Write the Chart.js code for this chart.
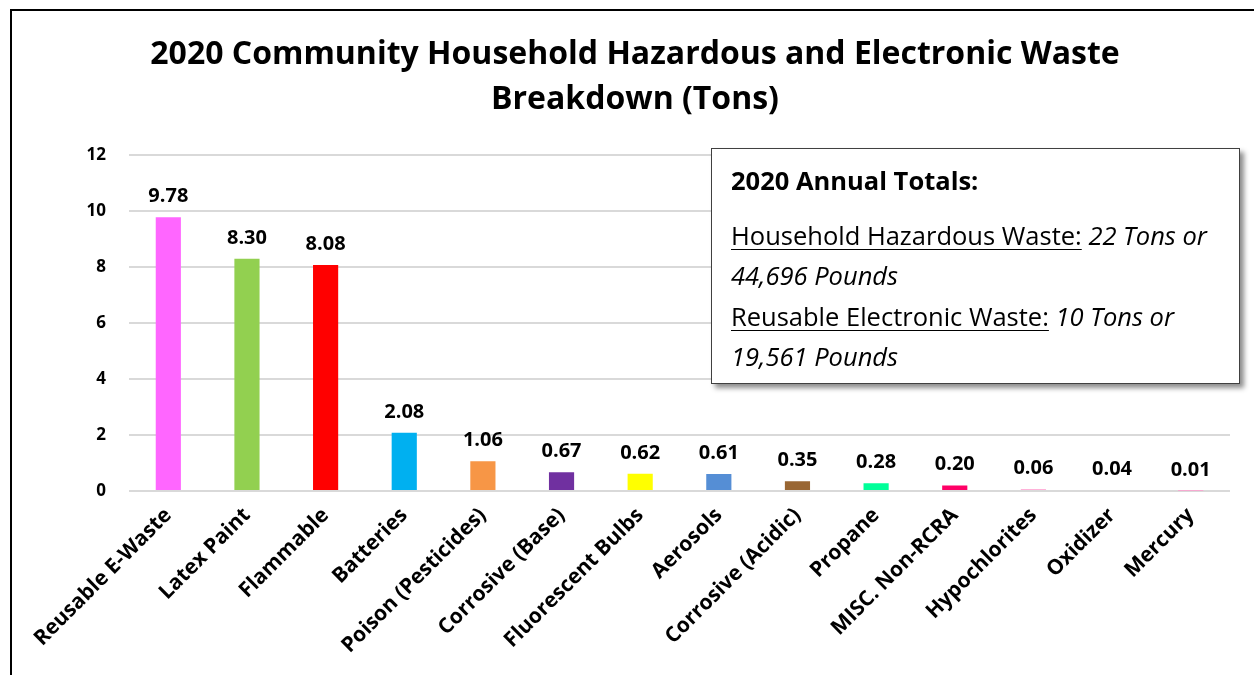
<!DOCTYPE html>
<html>
<head>
<meta charset="utf-8">
<script src="https://cdn.jsdelivr.net/npm/chart.js@4"></script>
<style>
    html, body { margin: 0; padding: 0; background: #fff; overflow: hidden; }
    #wrap { position: relative; width: 1254px; height: 675px; }
    #frame {
        position: absolute; left: 10px; top: 9px; width: 1300px; height: 720px;
        border: 2px solid #000; box-sizing: border-box; pointer-events: none;
    }
    #totals {
        position: absolute; left: 711px; top: 148px; width: 529px; height: 236px;
        box-sizing: border-box; border: 1px solid #404040; background: #fff;
        box-shadow: 4px 4px 5px rgba(0, 0, 0, 0.45);
        font-family: "Open Sans", Lato, sans-serif; font-size: 25.5px; color: #000;
        padding: 11px 0 0 19px; line-height: 40.5px;
    }
    #totals .head { font-weight: bold; margin-bottom: 14px; }
    #totals u { text-decoration-thickness: 1px; text-underline-offset: 4px; }
</style>
</head>
<body>
<div id="wrap">
    <canvas id="wasteChart"></canvas>
    <div id="frame"></div>
    <div id="totals">
        <div class="head">2020 Annual Totals:</div>
        <div><u>Household Hazardous Waste:</u> <i>22 Tons or</i></div>
        <div><i>44,696 Pounds</i></div>
        <div><u>Reusable Electronic Waste:</u> <i>10 Tons or</i></div>
        <div><i>19,561 Pounds</i></div>
    </div>
</div>
<script>
    // Chart data
    const categories = [
        "Reusable E-Waste", "Latex Paint", "Flammable", "Batteries", "Poison (Pesticides)",
        "Corrosive (Base)", "Fluorescent Bulbs", "Aerosols", "Corrosive (Acidic)", "Propane",
        "MISC. Non-RCRA", "Hypochlorites", "Oxidizer", "Mercury"
    ];
    const tons = [9.78, 8.30, 8.08, 2.08, 1.06, 0.67, 0.62, 0.61, 0.35, 0.28, 0.20, 0.06, 0.04, 0.01];
    const barColors = [
        "#FF66FF", "#92D050", "#FF0000", "#00B0F0", "#F79646",
        "#7030A0", "#FFFF00", "#558ED5", "#996633", "#00FF99",
        "#FF0066", "#FF99CC", "#FF99CC", "#FF99CC"
    ];
    const yMin = 0, yMax = 12, yStep = 2;

    const fontFamily = "'Open Sans', Lato, sans-serif";

    // value labels above each bar
    const valueLabels = {
        id: "valueLabels",
        afterDatasetsDraw(chart) {
            const ctx = chart.ctx;
            const meta = chart.getDatasetMeta(0);
            ctx.save();
            ctx.font = "bold 20px " + fontFamily;
            ctx.fillStyle = "#000";
            ctx.textAlign = "center";
            ctx.textBaseline = "alphabetic";
            meta.data.forEach((bar, i) => {
                ctx.fillText(tons[i].toFixed(2), bar.x, bar.y - 15);
            });
            ctx.restore();
        }
    };

    const ctx = document.getElementById("wasteChart");
    new Chart(ctx.getContext("2d"), {
        type: "bar",
        data: {
            labels: categories,
            datasets: [{
                data: tons,
                backgroundColor: barColors,
                borderWidth: 0,
                barPercentage: 0.64,
                categoryPercentage: 0.5
            }]
        },
        options: {
            responsive: true,
            maintainAspectRatio: false,
            animation: false,
            // left padding keeps the title centred like the original
            layout: { padding: { left: 40, right: 24, top: 0, bottom: 0 } },
            scales: {
                x: {
                    grid: { display: false, drawTicks: false },
                    border: { display: false },
                    ticks: {
                        autoSkip: false,
                        minRotation: 45,
                        maxRotation: 45,
                        padding: 12,
                        color: "#000",
                        font: { family: fontFamily, size: 21, weight: "bold" }
                    },
                    afterFit(scale) { scale.height = 184; }
                },
                y: {
                    min: yMin,
                    max: yMax,
                    grid: { color: "#D9D9D9", lineWidth: 2, drawTicks: false },
                    border: { display: false },
                    ticks: {
                        stepSize: yStep,
                        padding: 23,
                        color: "#000",
                        font: { family: fontFamily, size: 17, weight: "bold" }
                    },
                    afterFit(scale) { scale.width = 89; }
                }
            },
            plugins: {
                legend: { display: false },
                tooltip: { enabled: false },
                title: {
                    display: true,
                    text: ["2020 Community Household Hazardous and Electronic Waste", "Breakdown (Tons)"],
                    color: "#000",
                    font: { family: fontFamily, size: 32, weight: "bold", lineHeight: 1.41 },
                    padding: { top: 32, bottom: 33 }
                }
            }
        },
        plugins: [valueLabels]
    });
</script>
</body>
</html>
